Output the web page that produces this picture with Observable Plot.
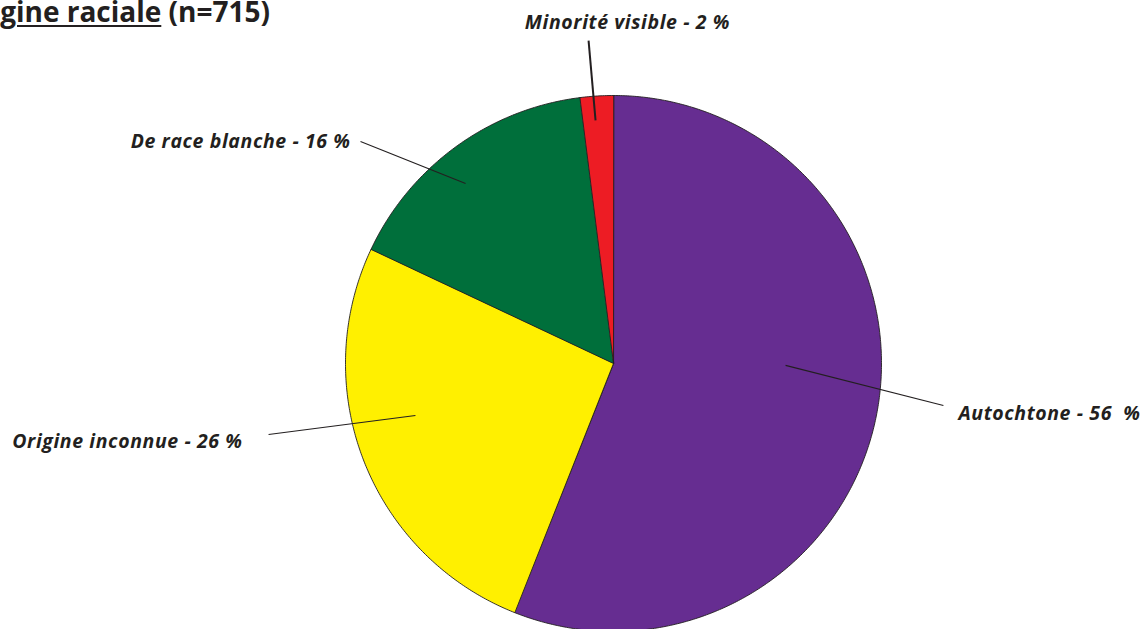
<!DOCTYPE html>
<html>
<head>
<meta charset="utf-8">
<script src="https://cdn.jsdelivr.net/npm/d3@7"></script>
<script src="https://cdn.jsdelivr.net/npm/@observablehq/plot@0.6"></script>
<style>
  html, body { margin: 0; padding: 0; background: #fff; }
  body { width: 1141px; height: 629px; overflow: hidden; position: relative; }
  #title { position: absolute; right: 871px; top: -8px; white-space: nowrap;
    font-family: "Open Sans", Lato, sans-serif; font-weight: 700; font-size: 28px; color: #231f20; }
  #title u { text-decoration-thickness: 2px; text-underline-offset: 3px; }
  #chart { position: absolute; left: 0; top: 0; }
</style>
</head>
<body>
<div id="title"><u>Origine raciale</u> (n=715)</div>
<div id="chart"></div>
<script>
// ---- data ----
const categories = ["Autochtone", "Origine inconnue", "De race blanche", "Minorité visible"];
const percents = [56, 26, 16, 2];
const labels = ["Autochtone - 56  %", "Origine inconnue - 26 %", "De race blanche - 16 %", "Minorité visible - 2 %"];
const colors = ["#662d91", "#fff000", "#006f3b", "#ed1c24"];

// ---- layout (unit-circle coordinates, y up) ----
const cx = 613, cy = 363, R = 268, W = 1141, H = 629;
const labelLayout = {
  "Autochtone":       {ax: 0.642,  ay: -0.007, lx: 1.231,  ly: -0.157, tx: 1.287,  ty: -0.187, anchor: "start", sw: 1.1},
  "Origine inconnue": {ax: -0.739, ay: -0.194, lx: -1.287, ly: -0.265, tx: -1.384, ty: -0.291, anchor: "end",   sw: 1.1},
  "De race blanche":  {ax: -0.552, ay: 0.672,  lx: -0.944, ly: 0.828,  tx: -0.981, ty: 0.826,  anchor: "end",   sw: 1.1},
  "Minorité visible": {ax: -0.067, ay: 0.907,  lx: -0.093, ly: 1.205,  tx: 0.052,  ty: 1.272,  anchor: "middle", sw: 2}
};

// build slice polygons from the values
const total = d3.sum(percents);
const slicePts = [];
let acc = 0;
categories.forEach((c, i) => {
  const a0 = acc / total * 2 * Math.PI;
  acc += percents[i];
  const a1 = acc / total * 2 * Math.PI;
  slicePts.push({cat: c, x: 0, y: 0});
  const n = Math.max(2, Math.ceil((a1 - a0) / (Math.PI / 360)));
  for (let k = 0; k <= n; k++) {
    const a = a0 + (a1 - a0) * k / n;
    slicePts.push({cat: c, x: Math.sin(a), y: Math.cos(a)});
  }
});

const ann = categories.map((c, i) => ({cat: c, label: labels[i], ...labelLayout[c]}));
const font = {fontSize: 19.5, fontWeight: 700, fontStyle: "italic", fill: "#231f20", fontFamily: "'Open Sans', Lato, sans-serif"};

const plot = Plot.plot({
  width: W, height: H,
  margin: 0,
  x: {domain: [-1, 1], range: [cx - R, cx + R], axis: null},
  y: {domain: [-1, 1], range: [cy + R, cy - R], axis: null},
  color: {domain: categories, range: colors},
  style: {background: "transparent"},
  marks: [
    Plot.line(slicePts, {x: "x", y: "y", z: "cat", fill: "cat", stroke: "#231f20", strokeWidth: 0.9, curve: "linear-closed", strokeLinejoin: "round"}),
    Plot.link(ann, {x1: "ax", y1: "ay", x2: "lx", y2: "ly", stroke: "#231f20", strokeWidth: d => d.sw}),
    Plot.text(ann.filter(d => d.anchor === "start"), {x: "tx", y: "ty", text: "label", textAnchor: "start", ...font}),
    Plot.text(ann.filter(d => d.anchor === "end"), {x: "tx", y: "ty", text: "label", textAnchor: "end", ...font}),
    Plot.text(ann.filter(d => d.anchor === "middle"), {x: "tx", y: "ty", text: "label", textAnchor: "middle", ...font})
  ]
});
plot.querySelectorAll("text").forEach(t => { t.setAttribute("xml:space", "preserve"); t.style.letterSpacing = "0.6px"; });
plot.style.whiteSpace = "pre";
document.getElementById("chart").appendChild(plot);
</script>
</body>
</html>
